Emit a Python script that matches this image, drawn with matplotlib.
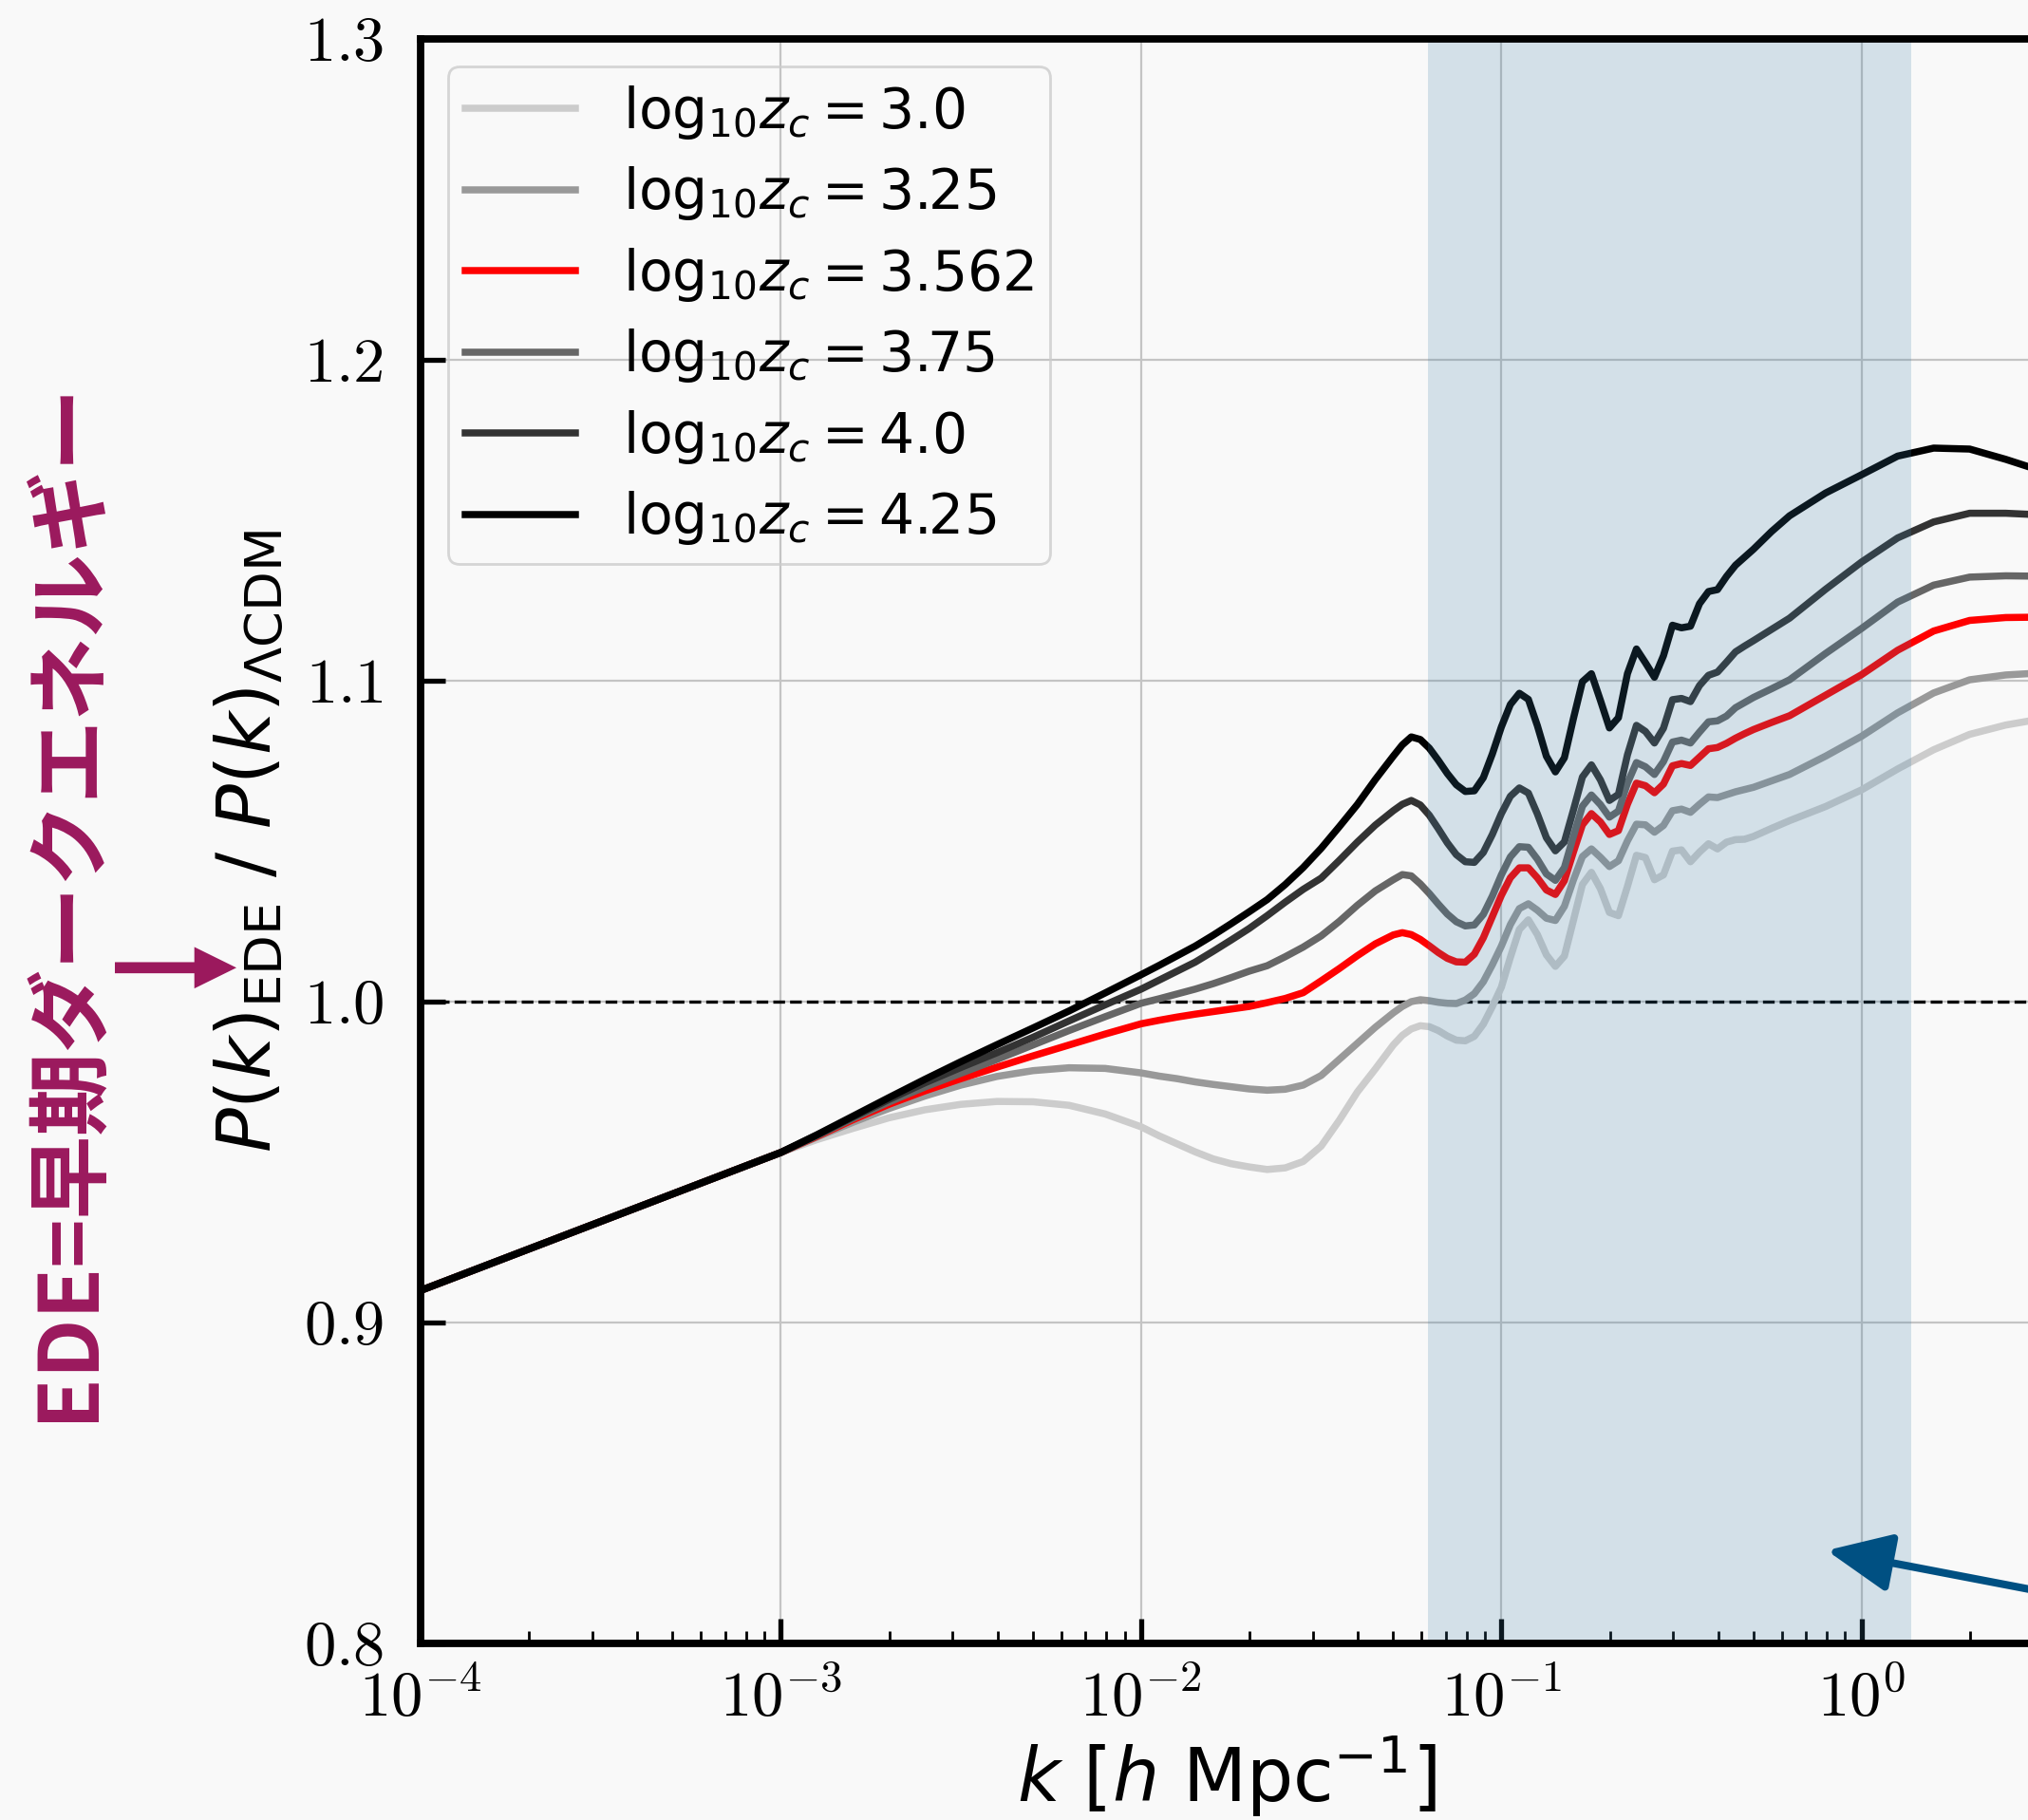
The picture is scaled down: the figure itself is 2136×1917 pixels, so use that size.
import numpy as np
import matplotlib
matplotlib.use('Agg')
import matplotlib.pyplot as plt
from matplotlib.font_manager import FontProperties
from matplotlib.patches import FancyArrow
from matplotlib.ticker import NullLocator

log_k = [-4.0, -3.5, -3.0, -2.9, -2.8, -2.7, -2.6, -2.5, -2.4, -2.3, -2.2, -2.1, -2.0,
         -1.95, -1.9, -1.85, -1.8, -1.75, -1.7, -1.65, -1.6, -1.55, -1.5, -1.45, -1.4, -1.35,
         -1.300, -1.275, -1.250, -1.225, -1.200, -1.175, -1.150, -1.125, -1.100, -1.075,
         -1.050, -1.025, -1.000, -0.975, -0.950, -0.925, -0.900, -0.875, -0.850, -0.825,
         -0.800, -0.775, -0.750, -0.725, -0.700, -0.675, -0.650, -0.625, -0.600, -0.575,
         -0.550, -0.525, -0.500, -0.475, -0.450, -0.425, -0.400, -0.375, -0.350, -0.325,
         -0.300, -0.25, -0.2, -0.1, 0.0, 0.1, 0.2, 0.3, 0.4, 0.477]

# P(k)_EDE / P(k)_LCDM, one list per log10 z_c
ratio_300 = [0.910, 0.9315, 0.953, 0.957, 0.9605, 0.9638, 0.9663, 0.9680, 0.9689, 0.9688,
             0.9677, 0.9650, 0.9610, 0.9582, 0.9557, 0.9532, 0.9510, 0.9495, 0.9485, 0.9477,
             0.9482, 0.9502, 0.9550, 0.9630, 0.9718, 0.9790, 0.9865, 0.9895, 0.9915, 0.9925,
             0.9922, 0.9910, 0.9893, 0.9880, 0.9878, 0.9892, 0.9930, 0.9985, 1.0045, 1.0138,
             1.0225, 1.0255, 1.0209, 1.0146, 1.0110, 1.0142, 1.0253, 1.0365, 1.0403, 1.0352,
             1.0278, 1.0268, 1.0359, 1.0456, 1.0449, 1.0380, 1.0395, 1.0469, 1.0473, 1.0436,
             1.0466, 1.0492, 1.0476, 1.0497, 1.0505, 1.0506, 1.0515, 1.0540, 1.0564, 1.0608,
             1.0660, 1.0725, 1.0785, 1.0833, 1.0862, 1.0877]
ratio_325 = [0.910, 0.9315, 0.953, 0.9578, 0.9624, 0.9667, 0.9706, 0.9740, 0.9767, 0.9785,
             0.9794, 0.9792, 0.9778, 0.9768, 0.9760, 0.9750, 0.9742, 0.9735, 0.9728, 0.9724,
             0.9727, 0.9740, 0.9770, 0.9820, 0.9870, 0.9920, 0.9965, 0.9985, 1.0000, 1.0006,
             1.0003, 0.9998, 0.9995, 0.9994, 1.0005, 1.0025, 1.0062, 1.0115, 1.0173, 1.0240,
             1.0290, 1.0305, 1.0285, 1.0260, 1.0253, 1.0297, 1.0379, 1.0452, 1.0476, 1.0450,
             1.0421, 1.0439, 1.0501, 1.0553, 1.0551, 1.0528, 1.0549, 1.0595, 1.0600, 1.0590,
             1.0615, 1.0638, 1.0636, 1.0645, 1.0654, 1.0661, 1.0668, 1.0688, 1.0708, 1.0765,
             1.0827, 1.0900, 1.0962, 1.1003, 1.1018, 1.1023]
ratio_3562 = [0.910, 0.9315, 0.953, 0.9580, 0.9632, 0.9680, 0.9722, 0.9760, 0.9796, 0.9831,
              0.9865, 0.9899, 0.9931, 0.9942, 0.9952, 0.9961, 0.9969, 0.9977, 0.9985, 0.9997,
              1.0010, 1.0028, 1.0065, 1.0103, 1.0143, 1.0180, 1.0208, 1.0215, 1.0209, 1.0194,
              1.0174, 1.0153, 1.0135, 1.0124, 1.0123, 1.0148, 1.0199, 1.0265, 1.0331, 1.0386,
              1.0417, 1.0417, 1.0386, 1.0348, 1.0334, 1.0377, 1.0466, 1.0551, 1.0586, 1.0560,
              1.0521, 1.0533, 1.0615, 1.0681, 1.0673, 1.0651, 1.0678, 1.0735, 1.0742, 1.0736,
              1.0762, 1.0788, 1.0792, 1.0805, 1.0821, 1.0835, 1.0848, 1.0870, 1.0891, 1.0955,
              1.1019, 1.1095, 1.1155, 1.1188, 1.1197, 1.1198]
ratio_375 = [0.910, 0.9315, 0.953, 0.9582, 0.9636, 0.9687, 0.9734, 0.9777, 0.9820, 0.9865,
             0.9910, 0.9953, 0.9995, 1.0009, 1.0024, 1.0039, 1.0056, 1.0075, 1.0095, 1.0112,
             1.0140, 1.0170, 1.0205, 1.0250, 1.0300, 1.0345, 1.0380, 1.0396, 1.0392, 1.0367,
             1.0337, 1.0304, 1.0273, 1.0249, 1.0236, 1.0239, 1.0272, 1.0329, 1.0395, 1.0451,
             1.0483, 1.0481, 1.0444, 1.0398, 1.0378, 1.0418, 1.0515, 1.0609, 1.0644, 1.0614,
             1.0575, 1.0594, 1.0681, 1.0745, 1.0732, 1.0708, 1.0748, 1.0809, 1.0815, 1.0806,
             1.0840, 1.0872, 1.0875, 1.0890, 1.0916, 1.0932, 1.0948, 1.0975, 1.1003, 1.1085,
             1.1163, 1.1245, 1.1298, 1.1323, 1.1327, 1.1326]
ratio_400 = [0.910, 0.9315, 0.953, 0.9584, 0.9640, 0.9695, 0.9747, 0.9795, 0.9841, 0.9889,
             0.9940, 0.9990, 1.0039, 1.0067, 1.0095, 1.0123, 1.0157, 1.0192, 1.0228, 1.0268,
             1.0310, 1.0350, 1.0385, 1.0440, 1.0497, 1.0550, 1.0595, 1.0615, 1.0627, 1.0613,
             1.0581, 1.0539, 1.0495, 1.0458, 1.0436, 1.0434, 1.0465, 1.0521, 1.0586, 1.0640,
             1.0666, 1.0650, 1.0585, 1.0511, 1.0470, 1.0498, 1.0597, 1.0700, 1.0738, 1.0691,
             1.0627, 1.0646, 1.0769, 1.0861, 1.0842, 1.0806, 1.0852, 1.0941, 1.0945, 1.0935,
             1.0985, 1.1017, 1.1027, 1.1058, 1.1090, 1.1108, 1.1125, 1.1160, 1.1195, 1.1285,
             1.1370, 1.1445, 1.1495, 1.1522, 1.1522, 1.1518]
ratio_425 = [0.910, 0.9315, 0.953, 0.9585, 0.9643, 0.9701, 0.9758, 0.9813, 0.9866, 0.9918,
             0.9971, 1.0027, 1.0084, 1.0113, 1.0143, 1.0173, 1.0207, 1.0243, 1.0280, 1.0318,
             1.0365, 1.0418, 1.0478, 1.0545, 1.0614, 1.0692, 1.0765, 1.0800, 1.0825, 1.0817,
             1.0790, 1.0752, 1.0711, 1.0676, 1.0655, 1.0657, 1.0698, 1.0772, 1.0856, 1.0926,
             1.0961, 1.0942, 1.0860, 1.0765, 1.0716, 1.0760, 1.0882, 1.0997, 1.1022, 1.0939,
             1.0853, 1.0885, 1.1022, 1.1099, 1.1056, 1.1011, 1.1078, 1.1173, 1.1165, 1.1170,
             1.1240, 1.1278, 1.1284, 1.1325, 1.1360, 1.1385, 1.1410, 1.1465, 1.1514, 1.1585,
             1.1642, 1.1700, 1.1725, 1.1722, 1.1690, 1.1662]

curves = [ratio_300, ratio_325, ratio_3562, ratio_375, ratio_400, ratio_425]
zc_labels = ['3.0', '3.25', '3.562', '3.75', '4.0', '4.25']
line_colors = ['#cccccc', '#999999', '#ff0000', '#666666', '#333333', '#000000']

band_k = (0.0627, 1.375)

plt.rcParams.update({
    'font.family': 'serif',
    'font.serif': ['cmr10'],
    'mathtext.fontset': 'cm',
    'axes.formatter.use_mathtext': True,
})

bg = '#f9f9f9'
fig = plt.figure(figsize=(10.68, 9.585), dpi=200, facecolor=bg)
ax = fig.add_axes([0.2074, 0.0970, 0.7953, 0.8816])
ax.set_facecolor(bg)

k = 10 ** np.array(log_k)
for y, lab, c in zip(curves, zc_labels, line_colors):
    ax.plot(k, y, color=c, lw=2.7, label=r'$\mathrm{log}_{10}z_c = %s$' % lab, zorder=2)

ax.axhline(1.0, color='k', ls='--', lw=1.2, zorder=1.8)
ax.axvspan(band_k[0], band_k[1], color='#3b7ca4', alpha=0.2, lw=0, zorder=2.5)

ax.set_xscale('log')
ax.set_xlim(1e-4, 3)
ax.set_ylim(0.8, 1.3)
ax.set_yticks([0.8, 0.9, 1.0, 1.1, 1.2, 1.3])
ax.yaxis.set_minor_locator(NullLocator())

ax.set_axisbelow(True)
ax.grid(True, which='major', color='#c4c4c4', lw=0.8)

for s in ax.spines.values():
    s.set_linewidth(2.8)
ax.tick_params(which='major', direction='in', length=9.5, width=1.9, labelsize=24,
               top=False, right=False)
ax.tick_params(which='minor', direction='in', length=4.7, width=1.0, top=False, right=False)
ax.tick_params(axis='y', pad=14)
ax.tick_params(axis='x', pad=10)

sans = dict(family='DejaVu Sans', math_fontfamily='dejavusans', fontsize=28)
ax.set_xlabel(r'$k$ [$h$ Mpc$^{-1}$]', **sans)
ax.set_ylabel(r'$P(k)_{\rm EDE}$ / $P(k)_{\Lambda\rm CDM}$', **sans)
ax.xaxis.set_label_coords(0.5, -0.0556)
ax.yaxis.set_label_coords(-0.083, 0.5)

leg_font = FontProperties(family='DejaVu Sans', size=21, math_fontfamily='dejavusans')
ax.legend(loc='upper left', prop=leg_font, facecolor='none', edgecolor='0.8',
          labelspacing=0.42, borderpad=0.3, handletextpad=0.85)

# blue arrow coming in from the right
ax.annotate('', xy=(0.80, 0.829), xytext=(14.4, 0.802),
            arrowprops=dict(arrowstyle='-|>,head_length=1.04,head_width=0.47',
                            color='#005082', lw=2.9, mutation_scale=20,
                            shrinkA=0, shrinkB=0),
            annotation_clip=False)

# Japanese side note with arrow
magenta = '#9b195d'
fig.text(0.0332, 0.5052, 'EDE=早期ダークエネルギー', rotation=90, ha='center', va='center',
         fontsize=31.5, fontweight='bold', color=magenta,
         family=['Noto Sans CJK JP', 'DejaVu Sans'])
fig.add_artist(FancyArrow(121 / 2136, 1 - 1019.3 / 1917, 128 / 2136, 0,
                          width=11.7 / 1917, head_width=43.7 / 1917,
                          head_length=44.3 / 2136, length_includes_head=True,
                          transform=fig.transFigure, color=magenta, lw=0))

fig.savefig('out.png', dpi=200, facecolor=bg)
